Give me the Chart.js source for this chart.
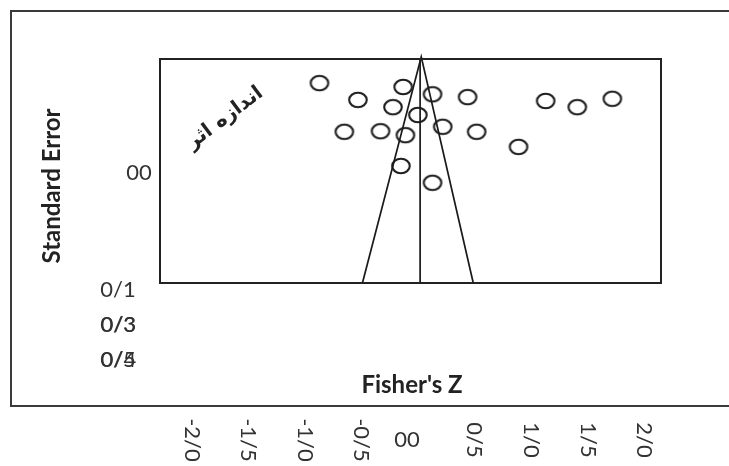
<!DOCTYPE html>
<html><head><meta charset="utf-8">
<script src="https://cdn.jsdelivr.net/npm/chart.js@4"></script>
<style>html,body{margin:0;padding:0;background:#fff;}canvas{display:block;}</style>
</head><body>
<canvas id="c" width="729" height="466"></canvas>
<script>
// ---- data ----
const fisherZ = [-0.88,-0.54,-0.14,-0.23,0.12,0.43,-0.01,-0.66,-0.34,-0.12,0.21,0.51,0.88,1.12,1.40,1.71,-0.16,0.12];
const standardError = [0.043,0.073,0.050,0.086,0.063,0.068,0.100,0.130,0.129,0.136,0.121,0.130,0.157,0.075,0.086,0.071,0.191,0.221];
const funnelX = [-0.5, 0.02, 0.48];
const funnelY = [0.4, -0.004, 0.4];
const meanLineX = [0.01, 0.01];
const meanLineY = [0, 0.4];
const xTickValues = [-2, -1.5, -1, -0.5, 0, 0.5, 1, 1.5, 2];
const xTickLabels = ['-2/0', '-1/5', '-1/0', '-0/5', '00', '0/5', '1/0', '1/5', '2/0'];
const yTickLabels = ['00', '0/1', '0/3', '0/3', '0/5', '0/4'];
const xTitle = "Fisher's Z";
const yTitle = 'Standard Error';
const noteText = 'اندازه اثر';

// ---- layout (positions / styles) ----
const yLabelPos = [[139,173],[118,290],[118,325],[118.6,325],[118,360],[118.6,360]];
const xLabelY = 440;

const pts = fisherZ.map((x,i)=>({x, y: standardError[i]}));
const funnel = funnelX.map((x,i)=>({x, y: funnelY[i]}));
const meanLine = meanLineX.map((x,i)=>({x, y: meanLineY[i]}));

const ptCanvas = document.createElement('canvas');
ptCanvas.width = 24; ptCanvas.height = 20;
(function(){
  const p = ptCanvas.getContext('2d');
  p.strokeStyle = '#1e1e1e'; p.lineWidth = 2.1;
  p.beginPath(); p.ellipse(12, 10, 8.8, 7.2, 0, 0, Math.PI*2); p.stroke();
})();

const decor = {
  id: 'decor',
  beforeDraw(chart) {
    const c = chart.ctx;
    c.save();
    c.fillStyle = '#fff'; c.fillRect(0,0,chart.width,chart.height);
    c.strokeStyle = '#3a3a3a'; c.lineWidth = 2;
    c.beginPath();
    c.moveTo(chart.width + 5, 11); c.lineTo(11, 11); c.lineTo(11, 406); c.lineTo(chart.width + 5, 406);
    c.stroke();
    c.restore();
  },
  afterDraw(chart) {
    const c = chart.ctx, a = chart.chartArea, xs = chart.scales.x;
    c.save();
    c.strokeStyle = '#222'; c.lineWidth = 2;
    c.strokeRect(a.left, a.top, a.right - a.left, a.bottom - a.top);

    c.fillStyle = '#222';
    c.textAlign = 'center'; c.textBaseline = 'middle';
    // axis titles
    c.font = 'bold 24px Lato';
    c.fillText(xTitle, 412, 385);
    c.save(); c.translate(52, 186); c.rotate(-Math.PI/2); c.fillText(yTitle, 0, 0); c.restore();

    // note
    c.save(); c.translate(225, 118); c.rotate(-37*Math.PI/180);
    c.font = 'bold 20px "DejaVu Sans"'; c.direction = 'rtl';
    c.fillText(noteText, 0, 0); c.restore();

    // y labels
    c.fillStyle = '#333'; c.font = '22px Lato';
    yTickLabels.forEach((t,i)=>{ c.fillText(t, yLabelPos[i][0], yLabelPos[i][1]); });

    // x labels
    xTickValues.forEach((v,i)=>{
      const px = xs.getPixelForValue(v);
      const t = xTickLabels[i];
      if (t === '00') { c.fillText(t, px - 12, xLabelY); return; }
      c.save(); c.translate(px - 1, xLabelY); c.rotate(Math.PI/2); c.fillText(t, 0, 0); c.restore();
    });
    c.restore();
  }
};

new Chart(document.getElementById('c'), {
  type: 'scatter',
  data: { datasets: [
    { type:'line', data: funnel, borderColor:'#1a1a1a', borderWidth:1.7, pointRadius:0, fill:false, tension:0, clip:false },
    { type:'line', data: meanLine, borderColor:'#1a1a1a', borderWidth:1.7, pointRadius:0, fill:false, tension:0 },
    { type:'scatter', data: pts, pointStyle: ptCanvas, pointRadius: 10, clip:false }
  ]},
  options: {
    responsive:false, animation:false, devicePixelRatio:1,
    layout:{ padding:{ left:160, top:59, right:68, bottom:183 } },
    plugins:{ legend:{display:false}, tooltip:{enabled:false} },
    scales:{
      x:{ type:'linear', min:-2.29, max:2.14, display:false },
      y:{ type:'linear', min:0, max:0.4, reverse:true, display:false }
    }
  },
  plugins:[decor]
});
</script>
</body></html>
